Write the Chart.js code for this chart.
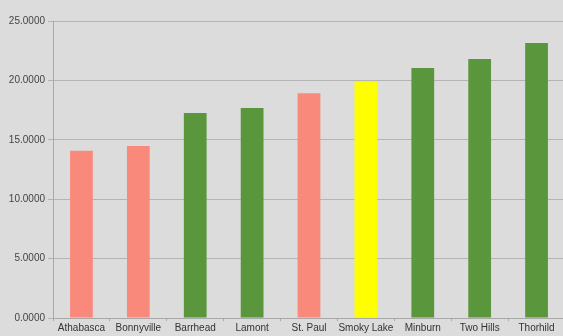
<!DOCTYPE html>
<html>
<head>
<meta charset="utf-8">
<script src="https://cdn.jsdelivr.net/npm/chart.js@4"></script>
<style>
  html, body { margin: 0; padding: 0; background: #dcdcdc; overflow: hidden; }
  #wrap { width: 570px; height: 336px; }
</style>
</head>
<body>
<div id="wrap"><canvas id="chart"></canvas></div>
<script>
// data
const towns = ["Athabasca", "Bonnyville", "Barrhead", "Lamont", "St. Paul", "Smoky Lake", "Minburn", "Two Hills", "Thorhild"];
const values = [14.08, 14.48, 17.26, 17.68, 18.91, 19.87, 21.04, 21.8, 23.15];
const barColors = ["#f98a7b", "#f98a7b", "#5a963b", "#5a963b", "#f98a7b", "#ffff00", "#5a963b", "#5a963b", "#5a963b"];

const ctx = document.getElementById("chart");
new Chart(ctx, {
  type: "bar",
  data: {
    labels: towns,
    datasets: [{
      data: values,
      backgroundColor: barColors,
      categoryPercentage: 0.4,
      barPercentage: 1.0
    }]
  },
  options: {
    responsive: true,
    maintainAspectRatio: false,
    animation: false,
    layout: { padding: { top: 21, left: 0, right: 5, bottom: 0 } },
    plugins: { legend: { display: false }, tooltip: { enabled: false } },
    scales: {
      x: {
        grid: { offset: true, drawOnChartArea: false, tickLength: 3, color: "#a8a8a8" },
        border: { color: "#a8a8a8" },
        ticks: { color: "#333", font: { family: "Liberation Sans", size: 10 }, padding: 1, maxRotation: 0, autoSkip: false },
        afterFit: (s) => { s.height = 18; }
      },
      y: {
        min: 0,
        max: 25,
        ticks: {
          stepSize: 5,
          color: "#444",
          font: { family: "Liberation Sans", size: 10 },
          padding: 3,
          callback: (v) => v.toFixed(4)
        },
        grid: { color: "#b4b4b4", tickLength: 5 },
        border: { color: "#a8a8a8" },
        afterFit: (s) => { s.width = 53; }
      }
    }
  }
});
</script>
</body>
</html>
